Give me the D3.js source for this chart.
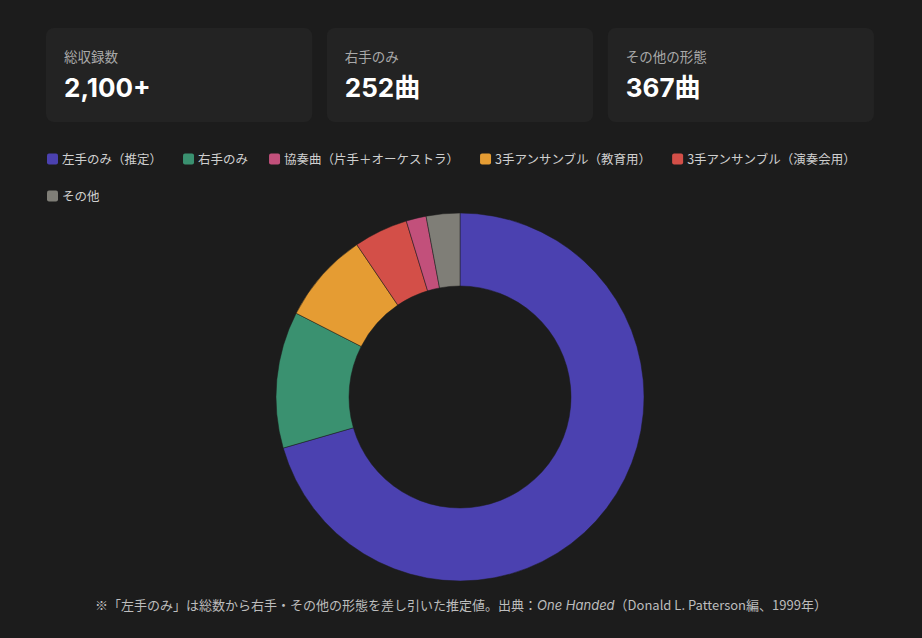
<!DOCTYPE html>
<html>
<head>
<meta charset="utf-8">
<script src="https://cdn.jsdelivr.net/npm/d3@7"></script>
<style>
  html, body { margin: 0; padding: 0; background: #1c1c1c; }
  svg { display: block; }
</style>
</head>
<body>
<svg id="chart" width="922" height="638"></svg>
<script>
// summary cards
const cardLabels = ['総収録数', '右手のみ', 'その他の形態']
const cardValues = ['2,100+', '252曲', '367曲']

// donut data (legend order)
const categories = ['左手のみ（推定）', '右手のみ', '協奏曲（片手＋オーケストラ）', '3手アンサンブル（教育用）', '3手アンサンブル（演奏会用）', 'その他']
const counts = [1481, 252, 37, 168, 100, 62]
const colors = ['#4b41b0', '#3a9170', '#c2507b', '#e59c33', '#d34f48', '#7f7e77']
// order the slices are drawn clockwise from 12 o'clock
const sliceOrder = [0, 1, 3, 4, 2, 5]

const note = '※「左手のみ」は総数から右手・その他の形態を差し引いた推定値。出典：'
const noteTitle = 'One Handed'
const noteTail = '（Donald L. Patterson編、1999年）'

const svg = d3.select('#chart')
const font = "'Noto Sans CJK JP', 'Noto Sans', sans-serif"

// cards
const cardX = d3.scaleBand().domain(d3.range(3)).range([46, 874]).paddingInner(0.052)
const cards = svg.selectAll('g.card')
  .data(cardLabels)
  .join('g')
    .attr('class', 'card')
    .attr('transform', (d, i) => `translate(${cardX(i)}, 28)`)
cards.append('rect')
  .attr('width', cardX.bandwidth())
  .attr('height', 94)
  .attr('rx', 8)
  .attr('fill', '#232323')
cards.append('text')
  .text(d => d)
  .attr('x', 18)
  .attr('y', 34)
  .attr('fill', '#a9a9a9')
  .attr('font-size', 13.5)
  .attr('font-family', font)
cards.append('text')
  .text((d, i) => cardValues[i])
  .attr('x', 18)
  .attr('y', 69)
  .attr('fill', '#ffffff')
  .attr('font-size', 26)
  .attr('font-weight', 700)
  .attr('font-family', "Inter, 'Noto Sans CJK JP', sans-serif")

// legend, wrapped into rows
const legend = svg.append('g')
const items = legend.selectAll('g.item')
  .data(categories)
  .join('g')
    .attr('class', 'item')
items.append('rect')
  .attr('width', 11)
  .attr('height', 11)
  .attr('rx', 2)
  .attr('y', -5.5)
  .attr('fill', (d, i) => colors[i])
items.append('text')
  .text(d => d)
  .attr('x', 15)
  .attr('y', 4.5)
  .attr('fill', '#cfcfcf')
  .attr('font-size', 12.5)
  .attr('font-family', font)

let lx = 47, ly = 159
items.each(function () {
  const w = 15 + this.querySelector('text').getComputedTextLength()
  if (lx + w > 876) { lx = 47; ly += 37 }
  d3.select(this).attr('transform', `translate(${lx}, ${ly})`)
  lx += w + 21
})

// donut
const cx = 460, cy = 397
const pie = d3.pie()
  .value(i => counts[i])
  .sort(null)
const arc = d3.arc()
  .innerRadius(111)
  .outerRadius(184)

svg.append('g')
  .attr('transform', `translate(${cx}, ${cy})`)
  .selectAll('path')
  .data(pie(sliceOrder))
  .join('path')
    .attr('d', arc)
    .attr('fill', d => colors[d.data])
    .attr('stroke', '#1c1c1c')
    .attr('stroke-width', 0.5)

// footnote
const foot = svg.append('text')
  .attr('x', 461)
  .attr('y', 610)
  .attr('text-anchor', 'middle')
  .attr('fill', '#bdbdbd')
  .attr('font-size', 13)
  .attr('font-family', font)
foot.append('tspan').text(note)
foot.append('tspan').text(noteTitle).attr('font-style', 'italic').attr('font-family', "Inter, 'Noto Sans', sans-serif")
foot.append('tspan').text(noteTail)
</script>
</body>
</html>
